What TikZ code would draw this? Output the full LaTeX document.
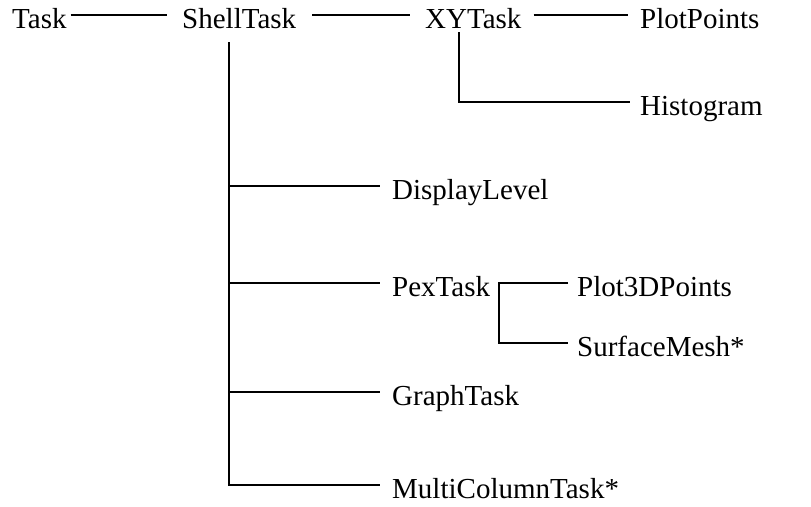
\documentclass[tikz,border=0pt]{standalone}
\usepackage{fontspec}
\setmainfont{Liberation Serif}
\begin{document}
\begin{tikzpicture}[x=1pt,y=-1pt,
  lbl/.style={anchor=west,inner sep=0pt,text height=27pt,text depth=0pt,
    font=\fontsize{29}{34}\selectfont},
  conn/.style={line width=2.4pt,line cap=butt}]
\useasboundingbox (0,0) rectangle (811,506);
\node[lbl] (task) at (12,15) {Task};
\node[lbl] (shell) at (182,15) {ShellTask};
\node[lbl] (xy) at (425,15) {XYTask};
\node[lbl] (plotpoints) at (640,15) {PlotPoints};
\node[lbl] (histogram) at (640,102) {Histogram};
\node[lbl] (display) at (392,186) {DisplayLevel};
\node[lbl] (pex) at (392,283) {PexTask};
\node[lbl] (plot3d) at (577,283) {Plot3DPoints};
\node[lbl] (surface) at (577,343) {SurfaceMesh*};
\node[lbl] (graph) at (392,392) {GraphTask};
\node[lbl] (multi) at (392,485) {MultiColumnTask*};
\coordinate (sv) at (229,42);
\coordinate (xyv) at (459,32);
\coordinate (pv) at ([xshift=9pt]pex.east);
\draw[conn,shorten <=4pt,shorten >=15pt] (task) -- (shell);
\draw[conn,shorten <=16pt,shorten >=15pt] (shell) -- (xy);
\draw[conn,shorten <=12pt,shorten >=12pt] (xy) -- (plotpoints);
\draw[conn] (xyv) |- ([xshift=-10pt]histogram.west);
\draw[conn] (sv) |- ([xshift=-12pt]multi.west);
\draw[conn] (sv |- display) -- ([xshift=-12pt]display.west);
\draw[conn] (sv |- pex) -- ([xshift=-12pt]pex.west);
\draw[conn] (sv |- graph) -- ([xshift=-12pt]graph.west);
\draw[conn] ([xshift=-9pt]plot3d.west) -- (pv) |- ([xshift=-9pt]surface.west);
\end{tikzpicture}
\end{document}
